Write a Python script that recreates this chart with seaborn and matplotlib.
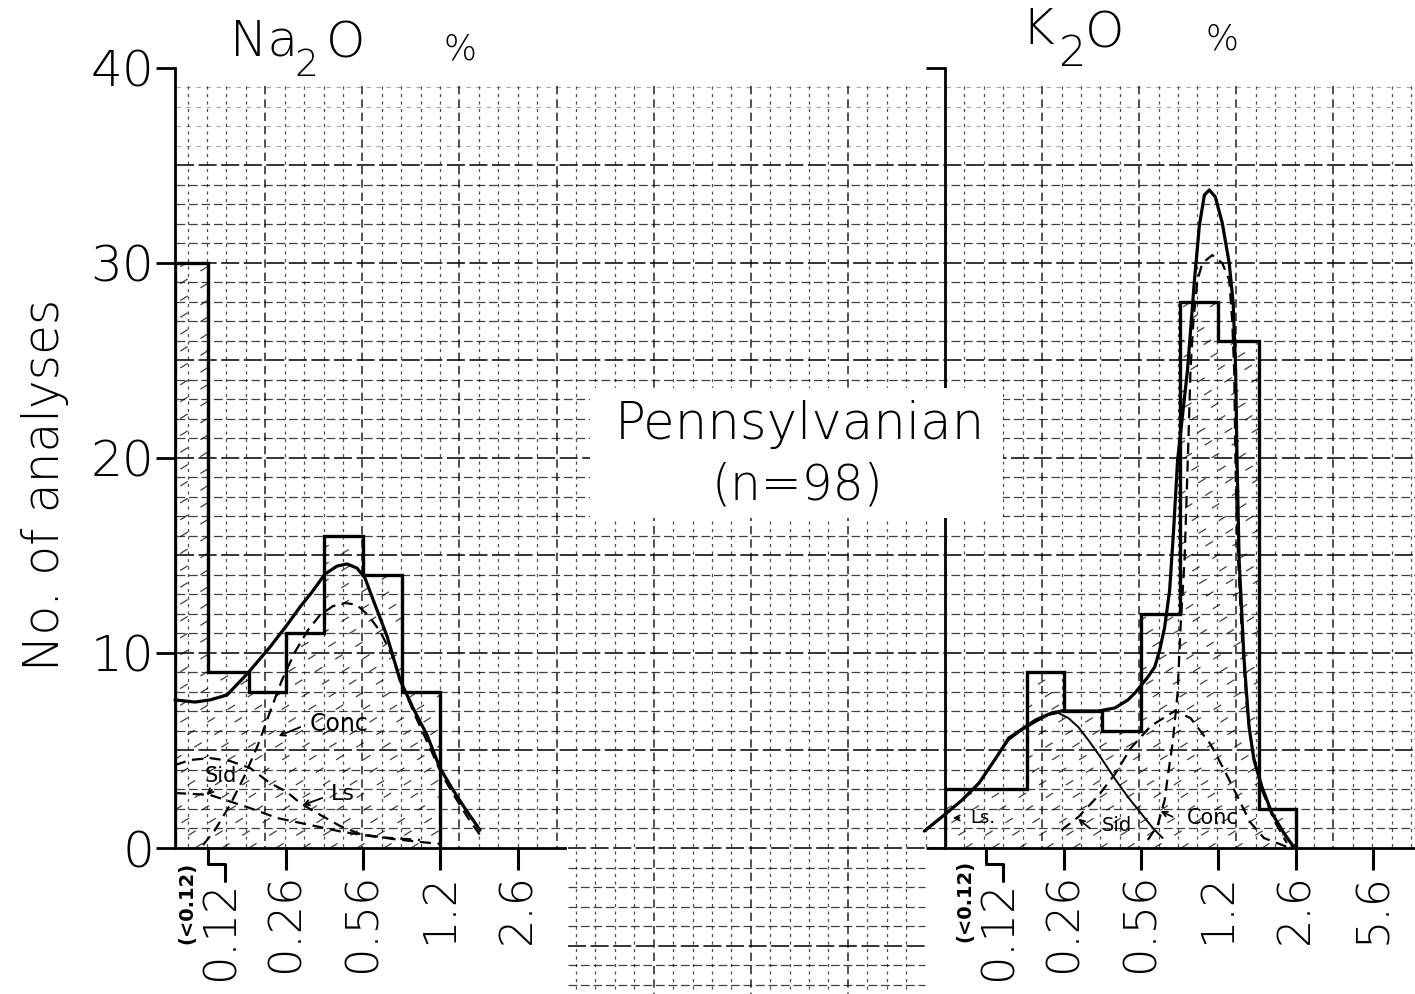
import numpy as np
import matplotlib
matplotlib.use("Agg")
import matplotlib.pyplot as plt
import seaborn as sns
from matplotlib.collections import LineCollection
from matplotlib.lines import Line2D
from matplotlib.patches import Rectangle
from matplotlib.transforms import ScaledTranslation

# ---------------------------------------------------------------- data
# class breaks (wt %) of the half-class histogram; the first class is "<0.12"
class_breaks = [0.12, 0.18, 0.26, 0.38, 0.56, 0.82, 1.2, 1.8, 2.6]
na2o_counts = [30, 9, 8, 11, 16, 14, 8]
k2o_counts = [3, 3, 9, 7, 6, 12, 28, 26, 2]

na_ticks = [0.12, 0.26, 0.56, 1.2, 2.6]
na_ticklabels = ["0.12", "0.26", "0.56", "1.2", "2.6"]
k_ticks = [0.12, 0.26, 0.56, 1.2, 2.6, 5.6]
k_ticklabels = ["0.12", "0.26", "0.56", "1.2", "2.6", "5.6"]
y_ticks = [0, 10, 20, 30, 40]
y_ticklabels = ["0", "10", "20", "30", "40"]

# Na2O: total fitted curve and its components
na_total_x = [0.0865, 0.1055, 0.1224, 0.1449, 0.1785, 0.222, 0.263, 0.299, 0.337, 0.383,
              0.432, 0.477, 0.526, 0.570, 0.630, 0.709, 0.807, 0.918, 1.055, 1.20,
              1.366, 1.553, 1.785]
na_total_y = [7.59, 7.48, 7.59, 7.84, 8.97, 10.30, 11.43, 12.35, 13.12, 14.04,
              14.45, 14.56, 14.35, 13.84, 12.46, 10.87, 8.61, 7.18, 5.79, 4.10,
              2.97, 1.95, 0.92]
na_conc_x = [0.1142, 0.1286, 0.1493, 0.1732, 0.1971, 0.222, 0.2501, 0.2846, 0.3238, 0.3648,
             0.415, 0.4675, 0.526, 0.5873, 0.6616, 0.7453, 0.848, 0.9646, 1.0868, 1.224,
             1.3931, 1.5844, 1.785]
na_conc_y = [0.15, 0.92, 2.20, 3.74, 5.28, 6.97, 8.61, 10.05, 11.17, 11.94,
             12.40, 12.56, 12.46, 11.94, 11.12, 9.89, 8.00, 6.46, 5.13, 3.74,
             2.61, 1.54, 0.67]
na_sid_x = [0.0865, 0.1004, 0.1224, 0.1493, 0.1821, 0.222, 0.263, 0.299, 0.3541, 0.4448,
            0.5424, 0.7528, 0.984, 1.2]
na_sid_y = [4.25, 4.51, 4.61, 4.46, 4.10, 3.33, 2.87, 2.31, 1.79, 1.13,
            0.72, 0.46, 0.31, 0.21]
na_ls_x = [0.0865, 0.1224, 0.1767, 0.238, 0.3303, 0.4583, 0.6423, 0.984]
na_ls_y = [2.82, 2.72, 2.10, 1.54, 1.18, 0.82, 0.56, 0.41]

# K2O: total fitted curve and its components
k_total_x = [0.0651, 0.0793, 0.0947, 0.112, 0.1324, 0.1505, 0.1694, 0.1964, 0.2299, 0.2538,
             0.300, 0.3654, 0.4319, 0.491, 0.526, 0.5981, 0.6407, 0.6731, 0.7071, 0.7428,
             0.7726, 0.8037, 0.8443, 0.8869, 0.9502, 0.9982, 1.0486, 1.1015, 1.1685, 1.2519,
             1.3413, 1.3952, 1.430, 1.4513, 1.4802, 1.5549, 1.6334, 1.716, 1.8563, 2.0492,
             2.3062, 2.5448]
k_total_y = [0.87, 1.69, 2.46, 3.33, 4.61, 5.64, 6.05, 6.56, 6.92, 7.02,
             7.02, 7.02, 7.18, 7.59, 7.94, 8.76, 9.28, 10.15, 11.33, 13.22,
             16.30, 19.89, 22.19, 24.50, 29.11, 31.93, 33.47, 33.73, 33.37, 32.04,
             29.98, 27.94, 24.50, 19.63, 14.76, 9.64, 6.20, 4.51, 3.13, 1.79,
             0.77, 0.05]
k_conc_x = [0.5981, 0.660, 0.7071, 0.7283, 0.7651, 0.8037, 0.8278, 0.8611, 0.8782, 0.8957,
            0.9135, 0.9409, 0.9787, 1.0281, 1.1346, 1.2519, 1.3413, 1.3815, 1.409, 1.423,
            1.4371, 1.4657, 1.5246, 1.6016, 1.6991, 1.8563, 2.09, 2.3754]
k_conc_y = [0.41, 1.18, 2.46, 3.64, 5.38, 7.94, 11.33, 14.76, 17.84, 21.07,
            24.50, 27.06, 29.11, 29.98, 30.39, 29.98, 29.11, 27.06, 24.50, 20.91,
            17.84, 14.76, 10.66, 7.07, 4.77, 2.97, 1.44, 0.26]
k_sid_x = [0.2538, 0.300, 0.3654, 0.4319, 0.5057, 0.616, 0.7803, 0.9135, 1.1124, 1.2769,
           1.4513, 1.6496, 1.8933, 2.153, 2.4465]
k_sid_y = [0.92, 1.59, 2.67, 3.79, 5.13, 6.25, 7.02, 6.66, 5.33, 4.00,
           2.67, 1.33, 0.51, 0.26, 0.0]
k_ls_x = [0.0651, 0.0793, 0.0947, 0.112, 0.1324, 0.1505, 0.1694, 0.1964, 0.2232, 0.2463,
          0.2719, 0.300, 0.3311, 0.3763, 0.4319, 0.491, 0.5581, 0.6282, 0.6933]
k_ls_y = [0.87, 1.69, 2.46, 3.33, 4.61, 5.54, 6.00, 6.46, 6.82, 6.92,
          6.66, 6.20, 5.54, 4.61, 3.54, 2.61, 1.79, 1.03, 0.51]

# ---------------------------------------------------------------- style
sns.set_theme(style="ticks")
plt.rcParams["font.family"] = ["DejaVu Sans"]
plt.rcParams["font.weight"] = "light"
plt.rcParams["axes.linewidth"] = 2.0
for key in ("text.color", "axes.labelcolor", "xtick.color", "ytick.color", "axes.edgecolor"):
    plt.rcParams[key] = "black"

W, H = 1415, 994
fig = plt.figure(figsize=(W / 100, H / 100), dpi=100)
fig.patch.set_facecolor("white")


def fx(px):
    return px / W


def fy(py):
    return 1 - py / H


# ---------------------------------------------------------------- graph paper
bg = fig.add_axes([0, 0, 1, 1], zorder=-1)
bg.set_xlim(0, W)
bg.set_ylim(H, 0)
bg.axis("off")

GX, GY = 19.42, 19.51          # ruling pitch in pixels
X_REF, Y_BASE, TOP = 945, 848, 86
MID = (568, 925)               # strip between the two panels
h_faint, h_min, h_maj, v_min, v_maj = [], [], [], [], []
for k in range(1, 40):
    y = Y_BASE - GY * k
    if k >= 36:
        h_faint.append([(176, y), (W, y)])
    else:
        (h_maj if k % 5 == 0 else h_min).append([(176, y), (W, y)])
h_maj.append([(MID[0], Y_BASE), (X_REF, Y_BASE)])
for k in range(1, 8):
    y = Y_BASE + GY * k
    (h_maj if k % 5 == 0 else h_min).append([(MID[0], y), (MID[1], y)])
for k in range(-39, 25):
    if k == 0:
        continue
    x = X_REF + GX * k
    bottom = H if MID[0] < x < MID[1] else Y_BASE
    (v_maj if k % 5 == 0 else v_min).append([(x, TOP), (x, bottom)])

bg.add_collection(LineCollection(h_faint, colors="black", linewidths=0.8,
                                 linestyles=[(0, (4, 5))], alpha=0.35))
bg.add_collection(LineCollection(h_min, colors="black", linewidths=0.9,
                                 linestyles=[(0, (7, 3))], alpha=0.75))
bg.add_collection(LineCollection(h_maj, colors="black", linewidths=1.3,
                                 linestyles=[(0, (10, 2.5))], alpha=0.85))
bg.add_collection(LineCollection(v_min, colors="black", linewidths=0.9,
                                 linestyles=[(0, (2.5, 3.5))], alpha=0.7))
bg.add_collection(LineCollection(v_maj, colors="black", linewidths=1.2,
                                 linestyles=[(0, (5, 3))], alpha=0.8))

# ---------------------------------------------------------------- panels
AX_B = fy(848)
AX_H = (848 - 67.6) / H
NA_XLIM = (0.0865, 4.15)
K_XLIM = (0.0799, 8.48)
ax_na = fig.add_axes([fx(175), AX_B, (565 - 175) / W, AX_H])
ax_k = fig.add_axes([fx(945), AX_B, (W - 945) / W, AX_H])


def add_hatching(ax, patch, spacing=27, angle=32):
    pos = ax.get_position()
    wpx, hpx = pos.width * W, pos.height * H
    run = hpx / np.tan(np.radians(angle))
    starts = np.arange(-run, wpx, spacing)
    segs = [[(s / wpx, 0), ((s + run) / wpx, 1)] for s in starts]
    lc = LineCollection(segs, transform=ax.transAxes, colors="black",
                        linewidths=0.9, linestyles=[(0, (7, 12))], alpha=0.75, zorder=1)
    lc.set_clip_path(patch)
    ax.add_collection(lc, autolim=False)


def draw_panel(ax, xlim, counts, ticks, ticklabels, curves, ylabels):
    ax.set_xscale("log")
    ax.set_xlim(*xlim)
    ax.set_ylim(0, 40)
    ax.patch.set_alpha(0)
    edges = [xlim[0]] + class_breaks[:len(counts)]
    area = ax.stairs(counts, edges, fill=True, facecolor="none", edgecolor="none",
                     linewidth=0, zorder=1)
    add_hatching(ax, area)
    ax.stairs(counts, edges, color="black", linewidth=2.4, baseline=0, zorder=3)
    for xs, ys, style, lw in curves:
        sns.lineplot(x=xs, y=ys, ax=ax, color="black", linewidth=lw, linestyle=style,
                     sort=False, estimator=None, zorder=4)
        ax.lines[-1].set_clip_on(False)
    for side in ("top", "right"):
        ax.spines[side].set_visible(False)
    ax.spines["left"].set_bounds(0, 40)
    ax.set_xticks(ticks)
    ax.set_xticklabels(ticklabels, rotation=90, fontsize=32, va="top")
    ax.xaxis.set_minor_locator(matplotlib.ticker.NullLocator())
    ax.tick_params(axis="x", length=16, width=2.2, pad=2)
    ax.set_yticks(y_ticks)
    ax.set_yticklabels(ylabels, fontsize=36)
    ax.tick_params(axis="y", length=14, width=2.0, pad=1)
    ax.set_xlabel("")
    ax.set_ylabel("")
    # the lowest class boundary has a bent tick with its label set beside it
    ax.xaxis.get_major_ticks()[0].tick1line.set_visible(False)
    lab = ax.get_xticklabels()[0]
    lab.set_transform(lab.get_transform() + ScaledTranslation(0.13, -0.08, fig.dpi_scale_trans))
    bent = Line2D([0, 0, 0.17, 0.17], [0, -0.16, -0.16, -0.33], color="black",
                  linewidth=2.2, clip_on=False,
                  transform=fig.dpi_scale_trans + ScaledTranslation(ticks[0], 0, ax.transData))
    ax.add_artist(bent)


dash = (0, (5, 3))
draw_panel(ax_na, NA_XLIM, na2o_counts, na_ticks, na_ticklabels,
           [(na_total_x, na_total_y, "-", 2.3),
            (na_conc_x, na_conc_y, dash, 1.6),
            (na_sid_x, na_sid_y, dash, 1.6),
            (na_ls_x, na_ls_y, dash, 1.6)],
           y_ticklabels)
draw_panel(ax_k, K_XLIM, k2o_counts, k_ticks, k_ticklabels,
           [(k_total_x, k_total_y, "-", 2.3),
            (k_conc_x, k_conc_y, dash, 1.6),
            (k_sid_x, k_sid_y, dash, 1.6),
            (k_ls_x, k_ls_y, "-", 1.4)],
           [""] * 5)
ax_k.set_yticks([0, 40])
ax_k.set_yticklabels(["", ""])

# component labels with small arrows
arrow = dict(arrowstyle="->", color="black", lw=1.3, mutation_scale=9)
for ax, txt, pos, size, tail, tip in [
    (ax_na, "Conc", (0.440, 6.36), 17, (0.308, 6.25), (0.2357, 5.69)),
    (ax_na, "Sid", (0.1365, 3.69), 15, (0.1273, 3.08), (0.1164, 2.61)),
    (ax_na, "Ls", (0.458, 2.77), 16, (0.383, 2.61), (0.299, 2.15)),
    (ax_k, "Ls.", (0.1164, 1.54), 13, (0.0946, 1.54), (0.0839, 1.54)),
    (ax_k, "Sid", (0.440, 1.13), 14, (0.3434, 0.92), (0.2931, 1.59)),
    (ax_k, "Conc", (1.142, 1.54), 15, (0.784, 1.54), (0.6616, 1.95)),
]:
    ax.text(*pos, txt, fontsize=size, fontweight="normal", ha="center", va="center", zorder=5)
    ax.annotate("", xy=tip, xytext=tail, arrowprops=arrow, zorder=5)

# ---------------------------------------------------------------- texts
fig.text(fx(45), fy(485), "No. of analyses", rotation=90, fontsize=35,
         ha="center", va="center")
fig.text(fx(230), fy(55), "Na", fontsize=36, ha="left", va="baseline")
fig.text(fx(294), fy(76), "2", fontsize=27, ha="left", va="baseline")
fig.text(fx(326), fy(57), "O", fontsize=36, ha="left", va="baseline")
fig.text(fx(444), fy(60), "%", fontsize=25, ha="left", va="baseline")
fig.text(fx(1021), fy(44), "K", fontsize=36, ha="left", va="baseline")
fig.text(fx(1059), fy(66), "2", fontsize=31, ha="left", va="baseline")
fig.text(fx(1085), fy(47), "O", fontsize=36, ha="left", va="baseline")
fig.text(fx(1206), fy(50), "%", fontsize=25, ha="left", va="baseline")

fig.add_artist(Rectangle((fx(590), fy(518)), (1003 - 590) / W, (518 - 388) / H,
                         transform=fig.transFigure, facecolor="white",
                         edgecolor="none", zorder=5))
fig.text(fx(800), fy(425), "Pennsylvanian", fontsize=37, ha="center", va="center", zorder=6)
fig.text(fx(797), fy(486), "(n=98)", fontsize=35, ha="center", va="center", zorder=6)

fig.text(fx(187), fy(903), "(<0.12)", rotation=90, fontsize=14, fontweight="bold",
         ha="center", va="center")
fig.text(fx(965), fy(901), "(<0.12)", rotation=90, fontsize=14, fontweight="bold",
         ha="center", va="center")

fig.savefig("out.png", dpi=100, facecolor="white")
